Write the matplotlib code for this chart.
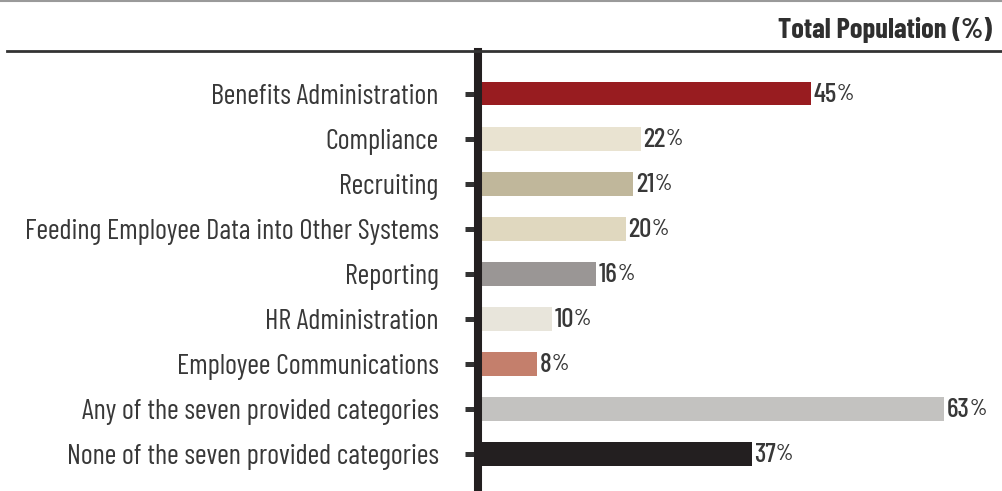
import matplotlib
matplotlib.use("Agg")
import matplotlib.pyplot as plt
from matplotlib.lines import Line2D

plt.rcParams['font.family'] = ['Barlow Condensed', 'DejaVu Sans']

categorias = [
    "Benefits Administration",
    "Compliance",
    "Recruiting",
    "Feeding Employee Data into Other Systems",
    "Reporting",
    "HR Administration",
    "Employee Communications",
    "Any of the seven provided categories",
    "None of the seven provided categories",
]
valores = [45, 22, 21, 20, 16, 10, 8, 63, 37]
cores = ["#981c20", "#e9e3d1", "#c0b79b", "#e0d8bf", "#9a9695",
         "#e8e5db", "#c47f6c", "#c3c2c0", "#231f20"]
titulo = "Total Population (%)"

W, H = 1002, 491
fig = plt.figure(figsize=(W / 100, H / 100), dpi=100)

# eixo: x=0 em px 478, topo em px 52, base em px 491
esq, topo, base = 478, 52, 491
ax = fig.add_axes([esq / W, 0, (W - esq) / W, (base - topo) / H])
px_por_pct = 7.4
ax.set_xlim(0, (W - esq) / px_por_pct)
passo = 45.06
ax.set_ylim(8 + 37 / passo, -41.5 / passo)

pos = list(range(len(categorias)))
ax.barh(pos, valores, height=0.53, color=cores, zorder=2)

cor_txt = "#383838"
ax.set_yticks(pos)
ax.set_yticklabels(categorias, fontsize=20.5, color=cor_txt)
ax.tick_params(axis='y', length=9.4, width=3.6, color="#333333", pad=19)
ax.set_xticks([])

for s in ["top", "right", "bottom"]:
    ax.spines[s].set_visible(False)
ax.spines["left"].set_linewidth(5.8)
ax.spines["left"].set_color("#231f20")
ax.spines["left"].set_zorder(3)

for i, v in enumerate(valores):
    t = ax.text(v + 0.35, i + 0.03, str(v), va='center', ha='left',
                fontsize=19.5, fontweight='medium', color=cor_txt)
    ax.annotate("%", xy=(1, 0.12), xycoords=t, va='bottom', ha='left',
                fontsize=16, fontweight='medium', color=cor_txt)

# linhas horizontais do cabeçalho
fig.add_artist(Line2D([0, 1], [1 - 1 / H, 1 - 1 / H], color="#9a9a9a", lw=1.5))
fig.add_artist(Line2D([7 / W, 1], [1 - 51 / H, 1 - 51 / H], color="#333333", lw=2))

fig.text(992 / W, 1 - 30 / H, titulo, ha='right', va='center',
         fontsize=20.5, fontweight='bold', color="#2f2f2f")

plt.savefig("out.png", dpi=100)
plt.close()
